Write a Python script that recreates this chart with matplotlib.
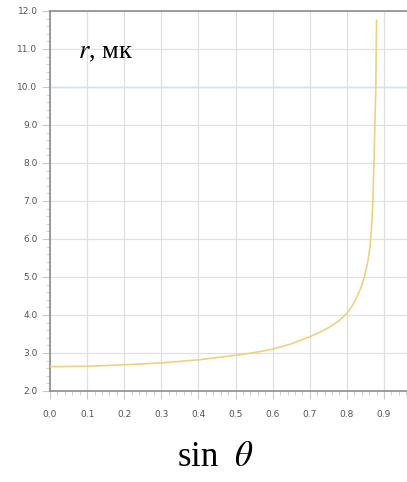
import matplotlib.pyplot as plt
from matplotlib.ticker import MultipleLocator

plt.rcParams['mathtext.fontset'] = 'stix'

# sin(theta) vs r
sin_theta = [0.0, 0.1, 0.2, 0.3, 0.4, 0.5, 0.55, 0.6, 0.65, 0.7, 0.73, 0.755,
             0.78, 0.8, 0.815, 0.827, 0.838, 0.847, 0.853, 0.858, 0.862, 0.865,
             0.868, 0.870, 0.873, 0.8755, 0.878, 0.880]
r_mk = [2.64, 2.65, 2.69, 2.74, 2.82, 2.94, 3.01, 3.10, 3.24, 3.43, 3.56, 3.69,
        3.86, 4.04, 4.25, 4.48, 4.72, 5.00, 5.25, 5.49, 5.78, 6.10,
        6.55, 7.00, 8.00, 9.00, 10.00, 11.75]

x_ticks = [0.0, 0.1, 0.2, 0.3, 0.4, 0.5, 0.6, 0.7, 0.8, 0.9]
y_ticks = [2.0, 3.0, 4.0, 5.0, 6.0, 7.0, 8.0, 9.0, 10.0, 11.0, 12.0]
ref_level = 10.0

fig = plt.figure(figsize=(4.07, 4.82), dpi=100)
ax = fig.add_axes([50 / 407, 91 / 482, 1 - 50 / 407, 380 / 482])

ax.set_xlim(0, 0.962)
ax.set_ylim(2.0, 12.0)

ax.set_xticks(x_ticks)
ax.set_yticks(y_ticks)
ax.set_xticklabels([f"{v:.1f}" for v in x_ticks])
ax.set_yticklabels([f"{v:.1f}" for v in y_ticks])
ax.xaxis.set_minor_locator(MultipleLocator(0.02))
ax.yaxis.set_minor_locator(MultipleLocator(0.2))

ax.grid(True, which='major', color='#e0e0e0', linewidth=0.9, zorder=0)
ax.axhline(ref_level, color='#b4d4ec', linewidth=1.0, zorder=1)

ax.plot(sin_theta, r_mk, color='#eed27e', linewidth=1.2, zorder=3)

ax.spines['right'].set_visible(False)
for side in ['left', 'bottom', 'top']:
    ax.spines[side].set_color('#8c8c8c')
    ax.spines[side].set_linewidth(1.2)

ax.tick_params(axis='both', which='major', length=6, color='#c8c8c8',
               labelsize=6.5, labelcolor='#555555', pad=3)
ax.tick_params(axis='both', which='minor', length=3, color='#c8c8c8')
ax.tick_params(axis='x', which='major', pad=8)

ax.text(0.078, 0.89, r'$r$, мк', transform=ax.transAxes, fontsize=19,
        family='Liberation Serif', va='center', ha='left')
fig.text(216 / 407, 1 - 458 / 482, r'sin  $\theta$', fontsize=25,
         family='Liberation Serif', ha='center', va='center')

fig.savefig('out.png', dpi=100)
